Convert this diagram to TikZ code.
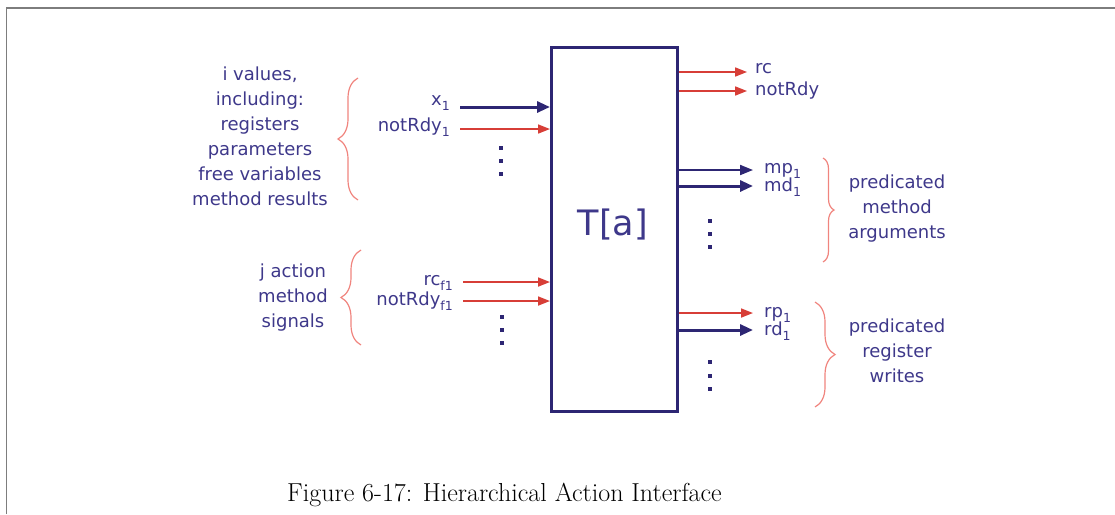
\documentclass[tikz,border=0pt]{standalone}
\usepackage{fontspec}
\newfontfamily\dejavu{DejaVu Sans}
\usepackage{xcolor}
\usepackage{tikz}
\usetikzlibrary{arrows.meta}
\usetikzlibrary{decorations.pathreplacing}

\definecolor{navy}{RGB}{45,38,115}
\definecolor{navytext}{RGB}{62,56,138}
\definecolor{sigred}{RGB}{215,62,55}
\definecolor{bracered}{RGB}{240,132,126}
\definecolor{framegray}{RGB}{125,125,125}

\newcommand{\lsub}[1]{\raisebox{-5pt}{\fontsize{12.5}{12.5}\selectfont #1}}

\begin{document}
\begin{tikzpicture}[x=1pt, y=-1pt,
    lbl/.style={font=\dejavu\fontsize{18}{25}\selectfont, text=navytext, inner sep=0pt},
    group/.style={lbl, align=center},
    bus/.style={line width=3pt, color=navy, -{Triangle[length=13pt,width=11pt]}},
    thinbus/.style={line width=2pt, color=navy, -{Triangle[length=13pt,width=10pt]}},
    sig/.style={line width=1.7pt, color=sigred, -{Triangle[length=12pt,width=9pt]}},
    brc/.style={draw=bracered, line width=1.2pt, decorate, decoration={brace, amplitude=#1}},
    brc/.default=20pt,
    dot/.style={rectangle, fill=navy, inner sep=0pt, minimum size=4pt}
]
    \useasboundingbox (0,0) rectangle (1115,514);

    % Frame
    \draw[framegray, line width=1.5pt] (6.5,514) -- (6.5,8) -- (1115,8);

    % Block
    \node[draw=navy, line width=3pt, minimum width=126pt, minimum height=364pt, inner sep=0pt] (ta) at (614.5,229.5) {};
    \node[font=\dejavu\fontsize{35}{35}\selectfont, text=navytext, inner sep=0pt] (talabel) at (613,224.5) {T[a]};

    % Inputs
    \coordinate (x1) at (460,107);
    \coordinate (nr1) at (460,129);
    \coordinate (rcf) at (463,282);
    \coordinate (nrf) at (463,301);
    \draw[bus] (x1) -- (x1 -| ta.west);
    \draw[sig] (nr1) -- (nr1 -| ta.west);
    \draw[sig] (rcf) -- (rcf -| ta.west);
    \draw[sig] (nrf) -- (nrf -| ta.west);
    \node[lbl, anchor=base east] (lx1) at (450,105) {x\lsub{1}};
    \node[lbl, anchor=base east] (lnr1) at (450,131) {notRdy\lsub{1}};
    \node[lbl, anchor=base east] (lrcf) at (453,285) {rc\lsub{f1}};
    \node[lbl, anchor=base east] (lnrf) at (453,305) {notRdy\lsub{f1}};

    % Outputs
    \coordinate (rc) at (747,72);
    \coordinate (nr) at (747,91);
    \coordinate (mp1) at (753,170);
    \coordinate (md1) at (753,186);
    \coordinate (rp1) at (753,313);
    \coordinate (rd1) at (753,330);
    \draw[sig] (rc -| ta.east) -- (rc);
    \draw[sig] (nr -| ta.east) -- (nr);
    \draw[thinbus] (mp1 -| ta.east) -- (mp1);
    \draw[bus] (md1 -| ta.east) -- (md1);
    \draw[sig] (rp1 -| ta.east) -- (rp1);
    \draw[bus] (rd1 -| ta.east) -- (rd1);
    \node[lbl, anchor=base west] (lrc) at (755,73) {rc};
    \node[lbl, anchor=base west] (lnr) at (755,95) {notRdy};
    \node[lbl, anchor=base west] (lmp1) at (764,173) {mp\lsub{1}};
    \node[lbl, anchor=base west] (lmd1) at (764,191) {md\lsub{1}};
    \node[lbl, anchor=base west] (lrp1) at (764,317) {rp\lsub{1}};
    \node[lbl, anchor=base west] (lrd1) at (764,335) {rd\lsub{1}};

    % Ellipses
    \foreach \y in {148,161,174} \node[dot] (da\y) at (501,\y) {};
    \foreach \y in {317,330,343} \node[dot] (db\y) at (502,\y) {};
    \foreach \y in {221,234,247} \node[dot] (dc\y) at (710,\y) {};
    \foreach \y in {362,376,389} \node[dot] (dd\y) at (710,\y) {};

    % Groups and braces
    \node[group] (gi) at (260,136) {i values,\\including:\\registers\\parameters\\free variables\\method results};
    \node[group] (gj) at (293,298) {j action\\method\\signals};
    \node[group] (gm) at (897,209) {predicated\\method\\arguments};
    \node[group] (gr) at (897,351) {predicated\\register\\writes};
    \draw[brc] (358,200) -- (358,78);
    \draw[brc] (361,345) -- (361,250);
    \draw[brc=11pt] (823,158) -- (823,262);
    \draw[brc] (815,302) -- (815,407);

    % Caption
    \node[font=\fontsize{26}{30}\selectfont, anchor=base, inner sep=0pt] (cap) at (504.5,501) {Figure 6-17: Hierarchical Action Interface};
\end{tikzpicture}
\end{document}
